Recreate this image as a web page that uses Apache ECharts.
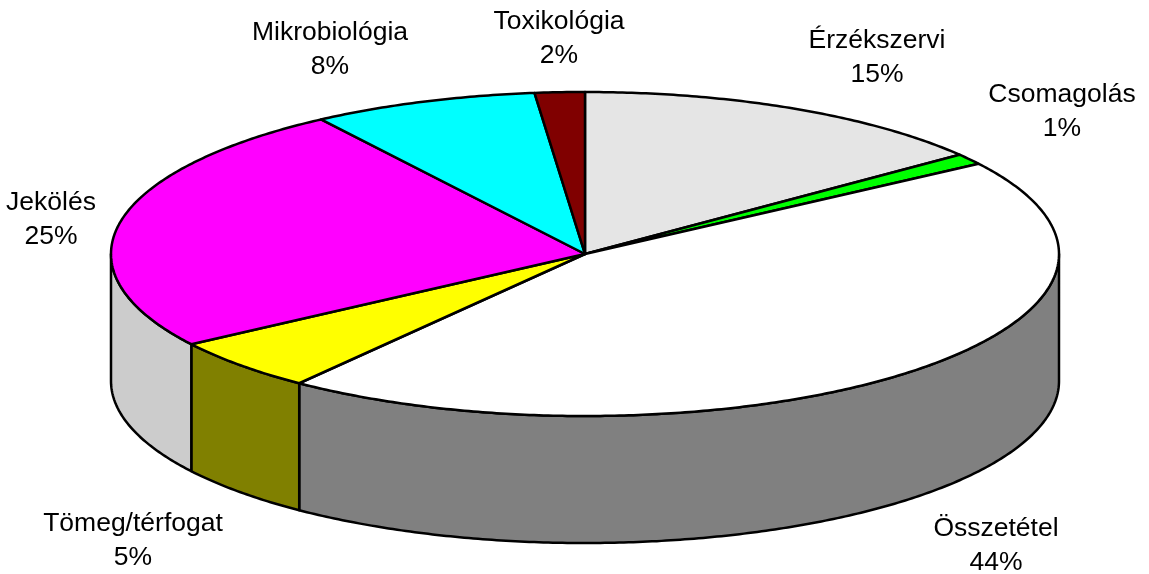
<!DOCTYPE html>
<html>
<head>
<meta charset="utf-8">
<style>
  html, body { margin: 0; padding: 0; background: #fff; }
  #chart { width: 1149px; height: 574px; }
</style>
<script src="https://cdn.jsdelivr.net/npm/echarts@6/dist/echarts.min.js"></script>
</head>
<body>
<div id="chart"></div>
<script>
const categories = ['Érzékszervi', 'Csomagolás', 'Összetétel', 'Tömeg/térfogat', 'Jekölés', 'Mikrobiológia', 'Toxikológia'];
// printed percentages
const percentLabels = ['15%', '1%', '44%', '5%', '25%', '8%', '2%'];
// drawn wedge sizes (they differ a bit from the printed ones)
const wedgeShares = [14.5, 1.1, 44.7, 5.3, 25, 7.7, 1.7];

const topColors = ['#e5e5e5', '#00ff00', '#ffffff', '#ffff00', '#ff00ff', '#00ffff', '#800000'];
const sideColors = ['#b0b0b0', '#008000', '#808080', '#808000', '#cccccc', '#008080', '#400000'];

// label centres in px, one per category
const LABEL_POS = [[877, 58], [1062, 112], [996, 546], [133, 541], [51, 220], [330, 50], [559, 39]];

const PIE = { cx: 585, cy: 254, rx: 474, ry: 162, depth: 127 };
const TOTAL = wedgeShares.reduce((a, b) => a + b, 0);

// angle is measured clockwise from the top of the ellipse
function rim(angle, drop) {
  return [
    PIE.cx + PIE.rx * Math.sin(angle),
    PIE.cy - PIE.ry * Math.cos(angle) + (drop || 0),
  ];
}

function arcPoints(from, to, drop) {
  const steps = Math.max(2, Math.ceil((to - from) / 0.01));
  const pts = [];
  for (let i = 0; i <= steps; i++) pts.push(rim(from + ((to - from) * i) / steps, drop));
  return pts;
}

function renderWedge(params, api) {
  const index = api.value(0);
  const start = (api.value(1) / TOTAL) * Math.PI * 2;
  const end = (api.value(2) / TOTAL) * Math.PI * 2;
  const line = { stroke: '#000', lineWidth: 2.5, lineJoin: 'round' };
  const children = [];

  // only the part of the rim on the front half of the ellipse gets a wall
  const wallFrom = Math.max(start, Math.PI / 2);
  const wallTo = Math.min(end, (Math.PI * 3) / 2);
  if (wallTo > wallFrom) {
    children.push({
      type: 'polygon',
      shape: {
        points: arcPoints(wallFrom, wallTo, 0).concat(arcPoints(wallFrom, wallTo, PIE.depth).reverse()),
      },
      style: { fill: sideColors[index], ...line },
    });
  }

  children.push({
    type: 'polygon',
    shape: { points: [[PIE.cx, PIE.cy]].concat(arcPoints(start, end, 0)) },
    style: { fill: topColors[index], ...line },
  });

  children.push({
    type: 'text',
    x: LABEL_POS[index][0],
    y: LABEL_POS[index][1],
    style: {
      text: categories[index] + '\n' + percentLabels[index],
      fill: '#000',
      font: '26.5px "Liberation Sans", Arial, sans-serif',
      lineHeight: 34,
      align: 'center',
      verticalAlign: 'middle',
    },
  });

  return { type: 'group', children };
}

let running = 0;
const wedgeData = wedgeShares.map((share, i) => {
  const row = [i, running, running + share];
  running += share;
  return row;
});

const chart = echarts.init(document.getElementById('chart'), null, { renderer: 'canvas' });
chart.setOption({
  animation: false,
  backgroundColor: '#fff',
  series: [
    {
      type: 'custom',
      coordinateSystem: 'none',
      renderItem: renderWedge,
      data: wedgeData,
      silent: true,
    },
  ],
});
</script>
</body>
</html>
